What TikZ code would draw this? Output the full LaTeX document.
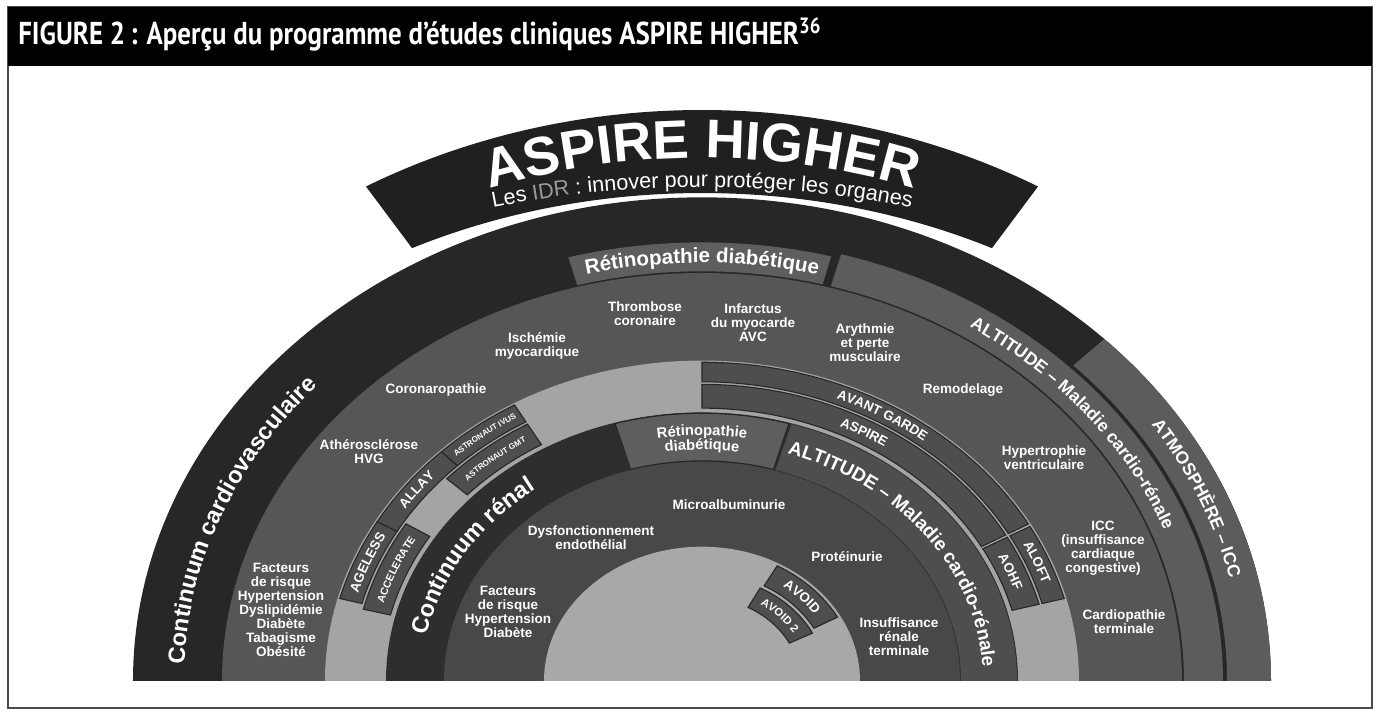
\documentclass[tikz,border=0pt]{standalone}
\usepackage{fontspec}
\setmainfont{Liberation Sans}
\newfontfamily\headfont[FakeStretch=0.85]{PT Sans}
\usetikzlibrary{decorations.text}

\definecolor{framegray}{HTML}{4A4A4A}
\definecolor{banner}{HTML}{202020}
\definecolor{cvdark}{HTML}{272727}
\definecolor{cvmid}{HTML}{565656}
\definecolor{outband}{HTML}{5C5C5C}
\definecolor{retgray}{HTML}{5E5E5E}
\definecolor{trialband}{HTML}{A4A4A4}
\definecolor{boxgray}{HTML}{4E4E4E}
\definecolor{rendark}{HTML}{2E2E2E}
\definecolor{renmid}{HTML}{484848}
\definecolor{coregray}{HTML}{A8A8A8}
\definecolor{idrgray}{HTML}{9A9A9A}

% fonts (1 unit = 0.02cm)
\newcommand{\lblfont}{\fontsize{7.7}{8}\selectfont\bfseries}
\newcommand{\fbanner}{\fontsize{31}{31}\selectfont\bfseries}
\newcommand{\fsub}{\fontsize{12.3}{12.3}\selectfont}
\newcommand{\fcont}{\fontsize{13.4}{13.4}\selectfont\bfseries}
\newcommand{\falt}{\fontsize{10}{10}\selectfont\bfseries}
\newcommand{\falti}{\fontsize{10.8}{10.8}\selectfont\bfseries}
\newcommand{\fretino}{\fontsize{11.7}{11.7}\selectfont\bfseries}
\newcommand{\fret}{\fontsize{8.4}{8.4}\selectfont\bfseries}
\newcommand{\ftrial}{\fontsize{7.6}{7.6}\selectfont\bfseries}
\newcommand{\fsmall}{\fontsize{6}{6}\selectfont\bfseries}
\newcommand{\ftiny}{\fontsize{4.6}{4.6}\selectfont\bfseries}
\newcommand{\favoid}{\fontsize{6.3}{6.3}\selectfont\bfseries}

% half of a flattened disc (y radius = 0.85 x radius)
\newcommand{\halfdisc}[2]{%
  \pgfmathsetmacro\discry{0.85*#2}
  \fill[#1] (180:#2 and \discry) arc[start angle=180, end angle=0, x radius=#2, y radius=\discry] -- cycle;}
% ring piece: style, from, to, inner r, outer r
\newcommand{\ringseg}[5]{%
  \pgfmathsetmacro\segin{0.85*#4}\pgfmathsetmacro\segout{0.85*#5}
  \filldraw[#1] (#2:#5 and \segout) arc[start angle=#2, end angle=#3, x radius=#5, y radius=\segout]
    -- (#3:#4 and \segin) arc[start angle=#3, end angle=#2, x radius=#4, y radius=\segin] -- cycle;}
% text along an elliptic arc: font, from, to, x radius, y radius, text
\newcommand{\arclabel}[6]{%
  \path[decorate, decoration={text along path, text align=center, text color=white,
      text={|#1|#6}}]
    (#2:#4 and #5) arc[start angle=#2, end angle=#3, x radius=#4, y radius=#5];}
\newcommand{\ringlabel}[5]{%
  \pgfmathsetmacro\lblry{0.85*#4}
  \arclabel{#1}{#2}{#3}{#4}{\lblry}{#5}}

\begin{document}
\begin{tikzpicture}[x=0.02cm, y=0.02cm,
  lbl/.style={text=white, font=\lblfont, align=center, inner sep=0pt},
  trialbox/.style={fill=boxgray, draw=black!85, line width=0.6pt},
  plainseg/.style={draw=none}]
\useasboundingbox (-702,-32) rectangle (677,681);

% frame and title bar
\draw[framegray, line width=1pt] (-694,-27) rectangle (670,674);
\fill[black] (-694,615) rectangle (670,674);
\node[anchor=base west, text=white, inner sep=0pt, font=\headfont\bfseries\fontsize{18}{18}\selectfont]
  (title) at (-684,636) {FIGURE 2\,: Aperçu du programme d’études cliniques ASPIRE HIGHER\textsuperscript{36}};

% banner
\fill[banner] (120:672 and 571) arc[start angle=120, end angle=60, x radius=672, y radius=571]
  -- (62.5:628 and 488) arc[start angle=62.5, end angle=117.5, x radius=628, y radius=488] -- cycle;
\arclabel{\fbanner}{118}{62}{631}{523}{ASPIRE HIGHER}
\arclabel{\fsub}{112}{68}{735}{494}{Les |\fsub\color{idrgray}|IDR|\fsub\color{white}| : innover pour protéger les organes}

% outer ring
\halfdisc{cvdark}{569}
\ringseg{outband, plainseg}{0}{74.5}{482}{521}
\ringseg{outband, plainseg}{0}{45}{525}{569}
\ringseg{retgray, plainseg}{75.5}{105}{482}{516}

% cardiovascular band
\halfdisc{cvmid}{480}

% trials band
\halfdisc{trialband}{377}
\ringseg{trialbox}{29.5}{90}{352}{375}
\ringseg{trialbox}{29.5}{90}{321}{349}
\ringseg{trialbox}{15}{29}{352}{375}
\ringseg{trialbox}{15}{29}{321}{349}
\ringseg{trialbox}{150}{165}{352}{375}
\ringseg{trialbox}{134}{150}{352}{375}
\ringseg{trialbox}{120}{134}{352}{375}
\ringseg{trialbox}{148}{166}{321}{349}
\ringseg{trialbox}{120}{137}{321}{349}

% renal rings
\halfdisc{rendark}{316}
\ringseg{retgray, draw=black!85, line width=0.6pt}{74}{106}{259}{315}
\ringseg{boxgray, plainseg}{0}{73.5}{259}{315}
\halfdisc{renmid}{258}
\halfdisc{coregray}{158}
\ringseg{trialbox}{29}{61}{128}{155}
\ringseg{trialbox}{27}{62}{98}{124}

% curved labels
\ringlabel{\fcont}{181}{135}{518}{Continuum cardiovasculaire}
\ringlabel{\falt}{74}{2}{495}{ALTITUDE – Maladie cardio-rénale}
\ringlabel{\falt}{44}{2}{541}{ATMOSPHÈRE – ICC}
\ringlabel{\fretino}{110}{70}{492}{Rétinopathie diabétique}
\ringlabel{\ftrial}{80}{39}{358.5}{AVANT GARDE}
\ringlabel{\ftrial}{80}{41}{330}{ASPIRE}
\ringlabel{\ftrial}{30}{15}{359}{ALOFT}
\ringlabel{\ftrial}{30}{15}{330}{AOHF}
\ringlabel{\ftrial}{166}{149}{359}{AGELESS}
\ringlabel{\ftrial}{152}{132}{359}{ALLAY}
\ringlabel{\ftiny}{136}{118}{360.5}{ASTRONAUT IVUS}
\ringlabel{\fsmall}{168}{146}{331}{ACCELERATE}
\ringlabel{\ftiny}{139}{118}{332}{ASTRONAUT GMT}
\ringlabel{\fcont}{174}{122}{280}{Continuum rénal}
\ringlabel{\falti}{76}{-1}{281}{ALTITUDE – Maladie cardio-rénale}
\ringlabel{\fret}{108}{72}{289}{Rétinopathie}
\ringlabel{\fret}{108}{72}{272}{diabétique}
\ringlabel{\ftrial}{62}{26}{137}{AVOID}
\ringlabel{\favoid}{62}{26}{107}{AVOID 2}

% stages of the cardiovascular continuum
\node[lbl] (thrombose) at (-57,367) {Thrombose\\coronaire};
\node[lbl] (ischemie) at (-165,335) {Ischémie\\myocardique};
\node[lbl] (infarctus) at (51,358) {Infarctus\\du myocarde\\AVC};
\node[lbl] (arythmie) at (163,338) {Arythmie\\et perte\\musculaire};
\node[lbl] (coronaro) at (-266,291) {Coronaropathie};
\node[lbl] (athero) at (-333,229) {Athérosclérose\\HVG};
\node[lbl] (facteurscv) at (-421,71) {Facteurs\\de risque\\Hypertension\\Dyslipidémie\\Diabète\\Tabagisme\\Obésité};
\node[lbl] (remodelage) at (261,291) {Remodelage};
\node[lbl] (hypertrophie) at (342,223.5) {Hypertrophie\\ventriculaire};
\node[lbl] (icc) at (401,132.5) {ICC\\(insuffisance\\cardiaque\\congestive)};
\node[lbl] (cardiopathie) at (422,59.5) {Cardiopathie\\terminale};

% stages of the renal continuum
\node[lbl] (facteursren) at (-194,69) {Facteurs\\de risque\\Hypertension\\Diabète};
\node[lbl] (dysfonction) at (-111,143.5) {Dysfonctionnement\\endothélial};
\node[lbl] (microalb) at (27,176) {Microalbuminurie};
\node[lbl] (proteinurie) at (145,124) {Protéinurie};
\node[lbl] (insuffisance) at (197,44) {Insuffisance\\rénale\\terminale};
\end{tikzpicture}
\end{document}
